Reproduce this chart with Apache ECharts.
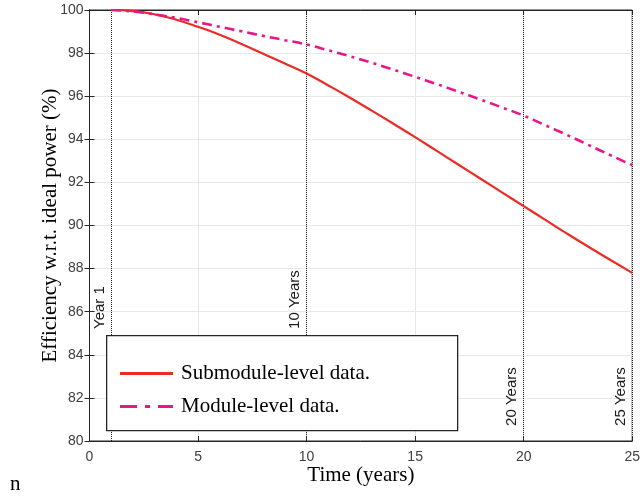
<!DOCTYPE html>
<html><head><meta charset="utf-8">
<script src="https://cdn.jsdelivr.net/npm/echarts@6/dist/echarts.min.js"></script>
<style>html,body{margin:0;padding:0;background:#fff}#c{width:643px;height:496px}</style>
</head><body><div id="c"></div>
<script>
var years = [1,2,3,4,5,6,7,8,9,10,11,12,13,14,15,16,17,18,19,20,21,22,23,24,25];
var submodule = [100,99.95,99.8,99.55,99.22,98.85,98.42,97.97,97.52,97.05,96.5,95.93,95.33,94.72,94.1,93.46,92.82,92.18,91.54,90.9,90.26,89.62,89.0,88.4,87.8];
var moduleLevel = [100,99.93,99.8,99.63,99.43,99.22,99.01,98.8,98.6,98.4,98.13,97.85,97.55,97.23,96.9,96.56,96.21,95.85,95.48,95.1,94.65,94.2,93.73,93.26,92.8];
var markerYears = [1,10,20,25];
var markerLabels = ['Year 1','10 Years','20 Years','25 Years'];
var markerLabelY = [85.2,85.2,80.7,80.7];
var seriesNames = ['Submodule-level data.','Module-level data.'];

var chart = echarts.init(document.getElementById('c'), null, {renderer:'canvas'});
var axisCol = '#262626';
var lblFont = {color:'#404040', fontFamily:'Liberation Sans', fontSize:14};
function pair(a){return a.map(function(v,i){return [years[i], v];});}
var opt = {
  animation:false,
  backgroundColor:'#fff',
  grid:{left:89.5, right:6.5, top:10, bottom:55, show:true, borderColor:axisCol, borderWidth:1},
  xAxis:[{
    type:'value', min:0, max:25, interval:5,
    axisLine:{show:true, onZero:false, lineStyle:{color:axisCol, width:1}},
    axisTick:{inside:true, length:5, lineStyle:{color:axisCol}},
    axisLabel:Object.assign({margin:9}, lblFont),
    splitLine:{show:true, lineStyle:{color:'#e8e8e8', width:1}},
    name:'Time (years)', nameLocation:'middle', nameGap:24, nameMoveOverlap:false,
    nameTextStyle:{fontFamily:'Liberation Serif', fontSize:21, color:'#000'}
  },{
    type:'value', min:0, max:25, interval:5, position:'top',
    axisLine:{show:true, lineStyle:{color:axisCol}},
    axisTick:{inside:true, length:5, lineStyle:{color:axisCol}},
    axisLabel:{show:false}, splitLine:{show:false}
  }],
  yAxis:[{
    type:'value', min:80, max:100, interval:2,
    axisLine:{show:true, onZero:false, lineStyle:{color:axisCol, width:1}},
    axisTick:{inside:true, length:5, lineStyle:{color:axisCol}},
    axisLabel:Object.assign({margin:6}, lblFont),
    splitLine:{show:true, lineStyle:{color:'#e8e8e8', width:1}},
    name:'Efficiency w.r.t. ideal power (%)', nameLocation:'middle', nameGap:29, nameMoveOverlap:false,
    nameTextStyle:{fontFamily:'Liberation Serif', fontSize:21, color:'#000'}
  },{
    type:'value', min:80, max:100, interval:2, position:'right',
    axisLine:{show:true, lineStyle:{color:axisCol}},
    axisTick:{inside:true, length:5, lineStyle:{color:axisCol}},
    axisLabel:{show:false}, splitLine:{show:false}
  }],
  legend:{
    orient:'vertical', left:115, top:358, itemWidth:53, itemHeight:14, itemGap:12,
    z:20,
    textStyle:{fontFamily:'Liberation Serif', fontSize:21, color:'#000', padding:[0,0,0,3]},
    data:[{name:seriesNames[0], icon:'path://M0,5.6L53,5.6L53,8.4L0,8.4Z'},
          {name:seriesNames[1], icon:'path://M0,5.6L17,5.6L17,8.4L0,8.4ZM25,5.6L30,5.6L30,8.4L25,8.4ZM38,5.6L53,5.6L53,8.4L38,8.4Z'}]
  },
  series:[{
    name:seriesNames[0], type:'line', data:pair(submodule), symbol:'none', smooth:true,
    itemStyle:{color:'#ee2a24'}, lineStyle:{color:'#ee2a24', width:2.2}, z:3,
    markLine:{silent:true, symbol:['none','none'], label:{show:false},
      lineStyle:{color:'#222', type:'dotted', width:1}, z:2,
      data:markerYears.map(function(y){return {xAxis:y};})}
  },{
    name:seriesNames[1], type:'line', data:pair(moduleLevel), symbol:'none', smooth:true,
    itemStyle:{color:'#ea1688'}, lineStyle:{color:'#ea1688', width:2.6, type:[10,5,3,5]}, z:3
  }]
};
chart.setOption(opt);
var g = [];
markerYears.forEach(function(y,i){
  var p = chart.convertToPixel({xAxisIndex:0, yAxisIndex:0}, [y, markerLabelY[i]]);
  g.push({type:'text', x:p[0]-4, y:p[1], rotation:Math.PI/2, z:5,
    style:{text:markerLabels[i], fontFamily:'Liberation Sans', fontSize:15, fill:'#1a1a1a', textAlign:'left', textVerticalAlign:'bottom'}});
});
g.push({type:'rect', left:106, top:335, z:10, shape:{width:351, height:95},
  style:{fill:'#fff', stroke:'#262626', lineWidth:1.3}});
g.push({type:'text', left:10, top:474, z:5, style:{text:'n', fontFamily:'Liberation Serif', fontSize:21, fill:'#000'}});
chart.setOption({graphic:g});
</script>
</body></html>
